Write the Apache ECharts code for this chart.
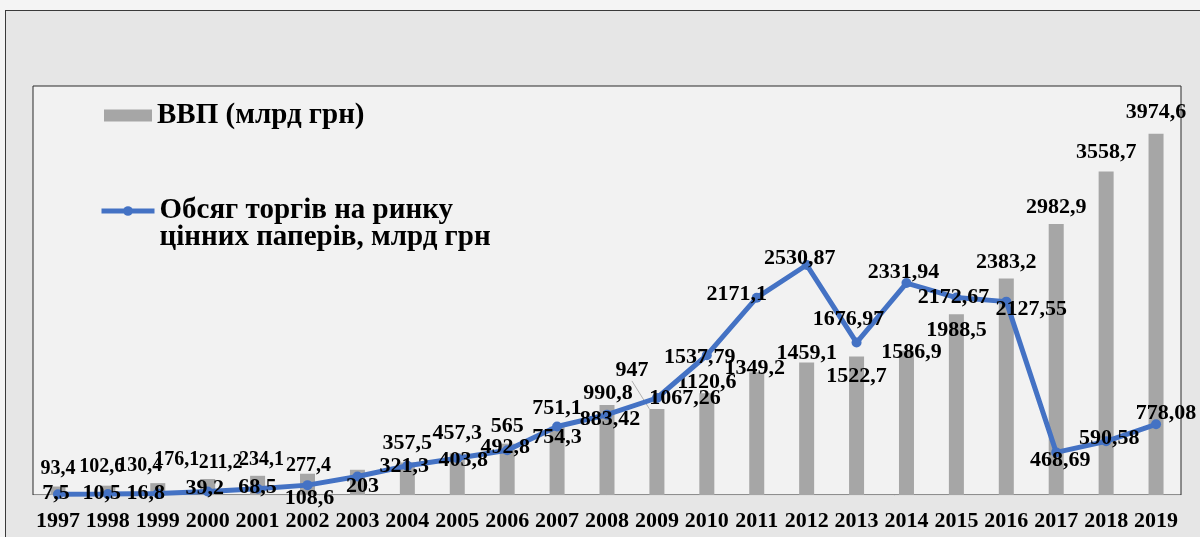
<!DOCTYPE html>
<html>
<head>
<meta charset="utf-8">
<script src="https://cdn.jsdelivr.net/npm/echarts@6/dist/echarts.min.js"></script>
<style>
  html, body { margin: 0; padding: 0; background: #f4f4f4; }
  #frame {
    position: absolute; left: 5px; top: 10px; width: 1220px; height: 560px;
    border: 1px solid #3a3a3a; background: #e6e6e6;
  }
  #chart { position: absolute; left: 0; top: 0; width: 1200px; height: 537px; }
</style>
</head>
<body>
<div id="frame"></div>
<div id="chart"></div>
<script>
// Years on the category axis
const years = ['1997','1998','1999','2000','2001','2002','2003','2004','2005','2006','2007','2008',
               '2009','2010','2011','2012','2013','2014','2015','2016','2017','2018','2019'];

// GDP, bn UAH (bars)
const gdp = [93.4, 102.6, 130.4, 176.1, 211.2, 234.1, 277.4, 357.5, 457.3, 565, 751.1, 990.8,
             947, 1120.6, 1349.2, 1459.1, 1522.7, 1586.9, 1988.5, 2383.2, 2982.9, 3558.7, 3974.6];

// Securities market trading volume, bn UAH (line)
const trading = [7.5, 10.5, 16.8, 39.2, 68.5, 108.6, 203, 321.3, 403.8, 492.8, 754.3, 883.42,
                 1067.26, 1537.79, 2171.1, 2530.87, 1676.97, 2331.94, 2172.67, 2127.55, 468.69, 590.58, 778.08];

// Hand-placed label nudges [dx, dy] so the value labels do not collide
const gdpLabelShift = [[0,0],[-6,-1],[-18,1],[-31,-1],[-37,5],[-46,4],[-49,14],[0,0],[0,-1],[0,2],[0,1],[1,7],
                       [-25,-20],[0,8],[-2,15],[0,10],[0,39],[5,21],[0,35],[0,3],[0,2],[0,0],[0,-2]];
const tradingLabelShift = [[-2,-1],[-6,-1],[-12,0],[-3,-3],[0,-1],[2,13],[5,10],[-3,1],[6,2],[-2,-3],[0,11],[3,5],
                           [28,0],[-7,2],[-20,-3],[-7,-7],[-8,-23],[-3,-11],[-3,0],[25,8],[4,8],[3,-3],[10,-11]];

// Early GDP labels are packed tightly, so they are set a little narrower
const compactGdpYears = ['1997','1998','1999','2000','2001','2002','2003'];

const fmt = v => String(v).replace('.', ',');
const serif = '"Times New Roman", "Liberation Serif", serif';

const labelFont = { fontFamily: serif, fontWeight: 'bold', fontSize: 22, color: '#000' };
const legendFont = { fontFamily: serif, fontWeight: 'bold', fontSize: 29, color: '#000' };

const gdpData = gdp.map((v, i) => {
  const item = { value: v };
  if (compactGdpYears.includes(years[i])) {
    item.label = { fontSize: 20 };
  }
  if (years[i] === '2009') {
    // the 2009 label sits off its bar, tied back with a thin leader
    item.labelLine = { show: true, lineStyle: { color: '#b0b0b0', width: 1 } };
  }
  return item;
});
const tradingData = trading.map((v, i) => ({ value: v, label: { offset: tradingLabelShift[i] } }));

const lineName = 'Обсяг торгів на ринку\nцінних паперів, млрд грн';

const chart = echarts.init(document.getElementById('chart'), null, { renderer: 'canvas' });
chart.setOption({
  backgroundColor: 'transparent',
  animation: false,
  grid: {
    left: 33, right: 19, top: 86, bottom: 42,
    show: true, backgroundColor: '#f2f2f2', borderColor: '#2a2a2a', borderWidth: 1
  },
  legend: [
    {
      data: [{ name: 'ВВП (млрд грн)', icon: 'rect' }],
      left: 99, top: 96,
      itemWidth: 48, itemHeight: 12, itemGap: 5,
      textStyle: legendFont
    },
    {
      data: [lineName],
      left: 94, top: 174,
      itemWidth: 53, itemHeight: 12, itemGap: 2,
      lineStyle: { color: '#4472c4', width: 5 },
      itemStyle: { color: '#4472c4' },
      // an empty leading row keeps the icon level with the first line of the name
      formatter: name => '{gap| }\n' + name.split('\n').map(s => '{t|' + s + '}').join('\n'),
      textStyle: {
        ...legendFont,
        rich: {
          gap: { fontSize: 10, lineHeight: 27 },
          t: { ...legendFont, lineHeight: 27 }
        }
      }
    }
  ],
  xAxis: {
    type: 'category',
    data: years,
    boundaryGap: true,
    axisLine: { show: true, lineStyle: { color: '#e0e0e0', width: 1 } },
    axisTick: { show: false },
    axisLabel: { interval: 0, margin: 15, fontFamily: serif, fontWeight: 'bold', fontSize: 22, color: '#000' }
  },
  yAxis: {
    type: 'value', min: 0, max: 4500,
    show: false, splitLine: { show: false }
  },
  series: [
    {
      name: 'ВВП (млрд грн)',
      type: 'bar',
      data: gdpData,
      barWidth: 15,
      itemStyle: { color: '#a6a6a6' },
      label: {
        show: true, position: 'top', distance: 8,
        formatter: p => fmt(p.value), ...labelFont
      },
      labelLayout: p => ({ dx: gdpLabelShift[p.dataIndex][0], dy: gdpLabelShift[p.dataIndex][1] }),
      z: 2
    },
    {
      name: lineName,
      type: 'line',
      data: tradingData,
      symbol: 'circle', symbolSize: 10,
      lineStyle: { color: '#4472c4', width: 5 },
      itemStyle: { color: '#4472c4' },
      label: {
        show: true, position: 'inside',
        formatter: p => fmt(p.value), ...labelFont
      },
      z: 3
    }
  ]
});
</script>
</body>
</html>
